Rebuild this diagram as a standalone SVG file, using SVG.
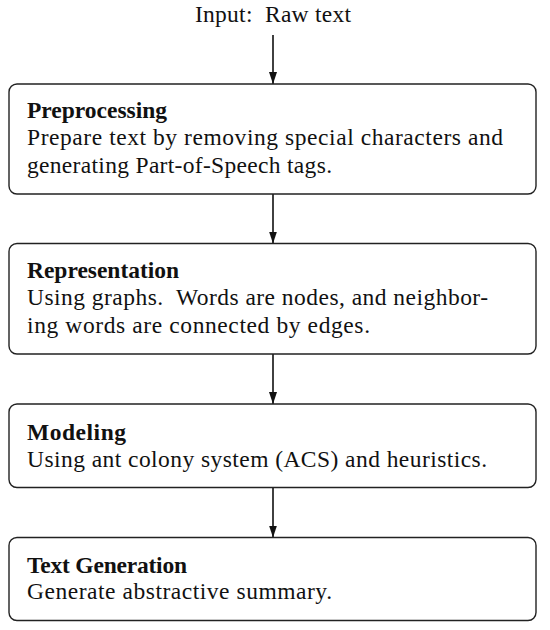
<svg xmlns="http://www.w3.org/2000/svg" width="550" height="630" viewBox="0 0 550 630">
<defs>
<style>
text{font-family:"Liberation Serif","DejaVu Serif",serif;font-size:23.5px;fill:#111}
.t{font-weight:bold}
.box{fill:#fff;stroke:#222;stroke-width:1.4}
.edge{stroke:#111;stroke-width:1.6;fill:none;marker-end:url(#ah)}
</style>
<marker id="ah" viewBox="0 0 12 8" refX="12" refY="4" markerWidth="12" markerHeight="8" markerUnits="userSpaceOnUse" orient="auto">
<path d="M0,0 L12,4 L0,8 z" fill="#111"/>
</marker>
</defs>
<rect width="550" height="630" fill="#fff"/>
<g id="connectors">
<line class="edge" x1="273" y1="35" x2="273" y2="84"/>
<line class="edge" x1="273" y1="194" x2="273" y2="243.5"/>
<line class="edge" x1="273" y1="354" x2="273" y2="404"/>
<line class="edge" x1="273" y1="487.5" x2="273" y2="537.5"/>
</g>
<g id="input">
<text x="195" y="22" textLength="156" lengthAdjust="spacing">Input:&#160; Raw text</text>
</g>
<g id="preprocessing">
<rect class="box" x="9" y="84" width="527" height="110" rx="8"/>
<text class="t" x="27" y="117.5" textLength="140" lengthAdjust="spacing">Preprocessing</text>
<text x="27" y="144.5" textLength="476" lengthAdjust="spacing">Prepare text by removing special characters and</text>
<text x="27" y="172.5" textLength="305" lengthAdjust="spacing">generating Part-of-Speech tags.</text>
</g>
<g id="representation">
<rect class="box" x="9" y="243.5" width="527" height="110.5" rx="8"/>
<text class="t" x="27" y="278" textLength="152" lengthAdjust="spacing">Representation</text>
<text x="27" y="305" textLength="461" lengthAdjust="spacing">Using graphs.&#160; Words are nodes, and neighbor-</text>
<text x="27" y="333" textLength="343" lengthAdjust="spacing">ing words are connected by edges.</text>
</g>
<g id="modeling">
<rect class="box" x="9" y="404" width="527" height="83.5" rx="8"/>
<text class="t" x="27" y="440" textLength="99" lengthAdjust="spacing">Modeling</text>
<text x="27" y="466.5" textLength="460" lengthAdjust="spacing">Using ant colony system (ACS) and heuristics.</text>
</g>
<g id="text-generation">
<rect class="box" x="9" y="537.5" width="527" height="83" rx="8"/>
<text class="t" x="27" y="572.5" textLength="160" lengthAdjust="spacing">Text Generation</text>
<text x="27" y="599" textLength="305" lengthAdjust="spacing">Generate abstractive summary.</text>
</g>
</svg>
